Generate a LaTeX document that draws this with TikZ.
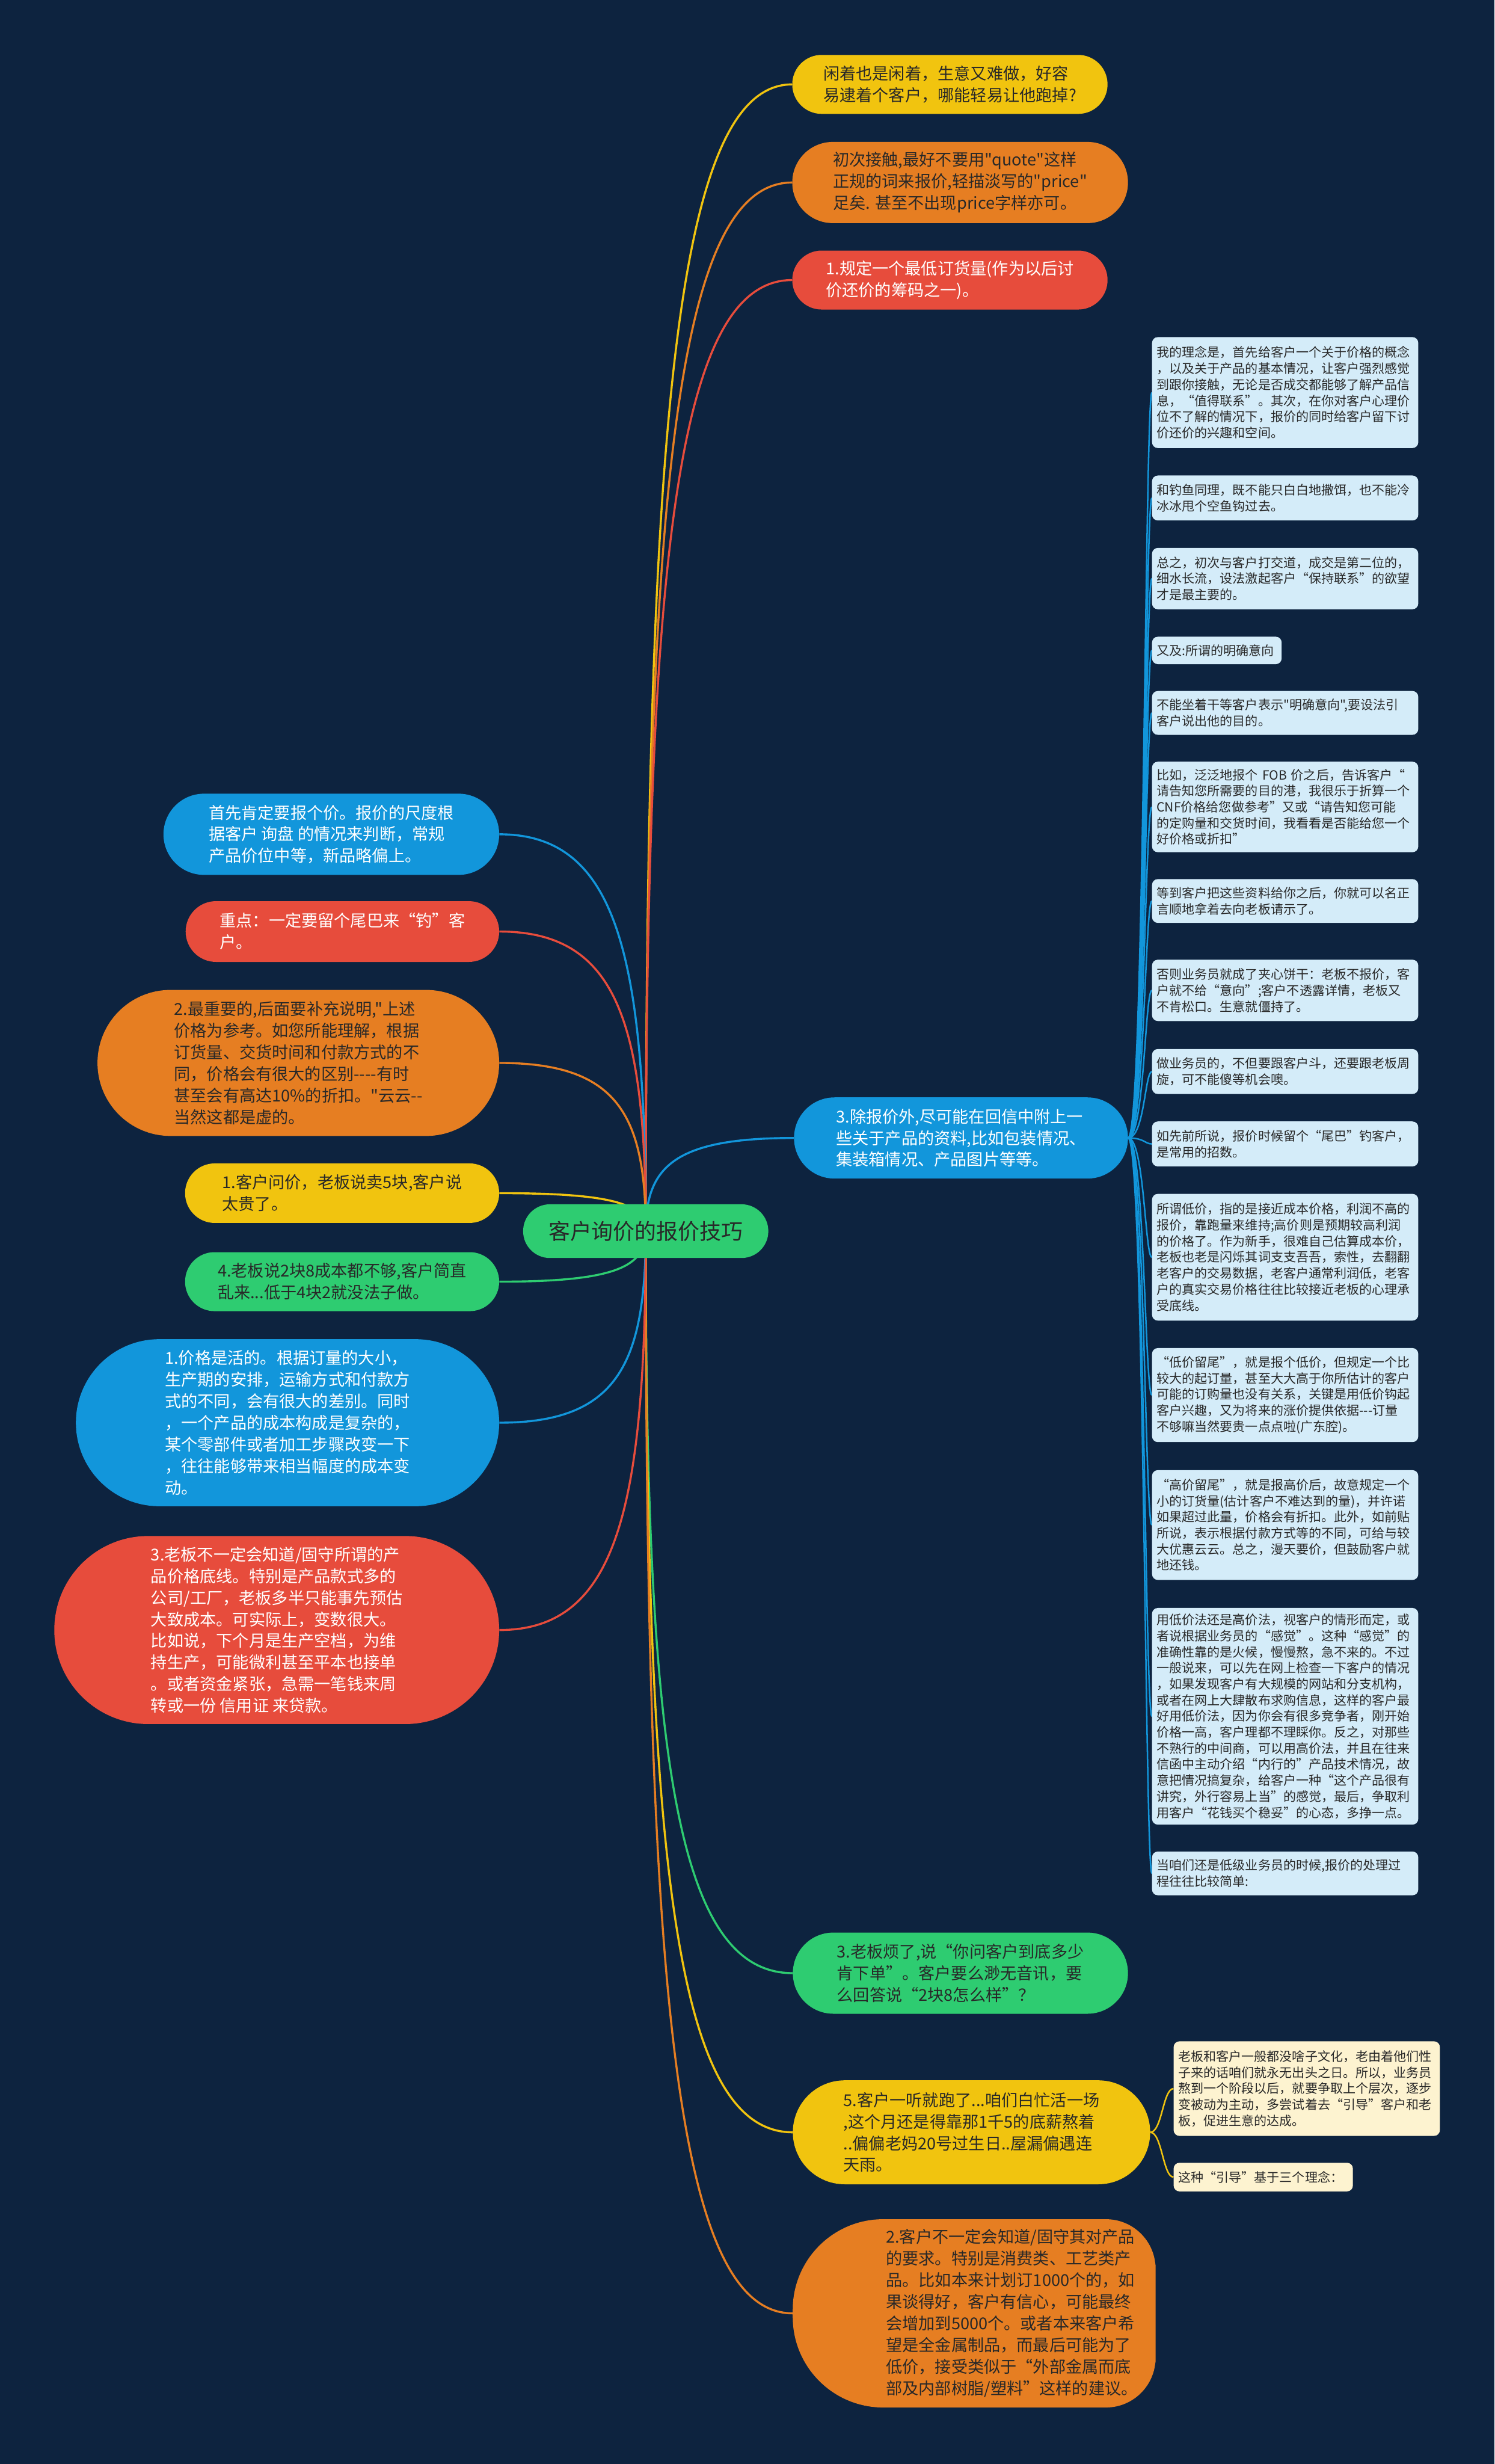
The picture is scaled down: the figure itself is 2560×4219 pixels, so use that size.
\documentclass[tikz,border=0pt]{standalone}
\usepackage{fontspec}
\newfontfamily\cjk{Noto Sans CJK SC}
\usetikzlibrary{calc}
\definecolor{bgc}{RGB}{13,35,63}
\definecolor{cyel}{RGB}{241,196,15}
\definecolor{corg}{RGB}{230,126,34}
\definecolor{cred}{RGB}{231,76,60}
\definecolor{cblu}{RGB}{18,150,219}
\definecolor{cgrn}{RGB}{46,204,113}
\definecolor{cleaf}{RGB}{212,236,249}
\definecolor{ccream}{RGB}{253,243,208}
\definecolor{cdark}{RGB}{40,40,40}
\pgfdeclarelayer{bg}
\pgfsetlayers{bg,main}
\tikzset{
  pill/.style={rectangle, inner sep=0pt, align=left, font=\cjk\fontsize{28}{37}\selectfont},
  ptext/.style={inner sep=0pt, align=left, font=\cjk\fontsize{28}{37}\selectfont},
  leafbox/.style={rectangle, rounded corners=10pt, fill=cleaf, inner xsep=8pt, inner ysep=0pt, text width=440pt, align=left, anchor=north west, text=cdark, font=\cjk\fontsize{21.7}{27.5}\selectfont},
  branchline/.style={line width=3.5pt},
  leafline/.style={line width=2.6pt},
}
\newcommand\mmbranch[2]{\draw[branchline,#1] (c.center) .. controls ($(c.center)!0.7!(c.center |- #2)$) and ($(c.center |- #2)!0.2!(#2)$) .. (#2);}
\begin{document}
\begin{tikzpicture}[x=1pt,y=-1pt]
\useasboundingbox (0,0) rectangle (2560,4219);
\begin{pgfonlayer}{bg}
\fill[bgc] (0,0) rectangle (2560,4219);
\end{pgfonlayer}

% central topic
\node[pill, fill=cgrn, text=cdark, minimum width=420pt, minimum height=92pt, rounded corners=45.9pt, font=\cjk\fontsize{37}{44}\selectfont] (c) at (1106,2108) {客户询价的报价技巧};

% right top
\node[pill, fill=cyel, text=cdark, minimum width=540pt, minimum height=101pt, rounded corners=50.4pt] (t1) at (1627,144.5) {闲着也是闲着，生意又难做，好容\\易逮着个客户，哪能轻易让他跑掉?};
\node[pill, fill=corg, text=cdark, minimum width=575pt, minimum height=139pt, rounded corners=69.4pt] (t2) at (1644.5,312.5) {初次接触,最好不要用"quote"这样\\正规的词来报价,轻描淡写的"price"\\足矣. 甚至不出现price字样亦可。};
\node[pill, fill=cred, text=white, minimum width=540pt, minimum height=101pt, rounded corners=50.4pt] (t3) at (1627,479.5) {1.规定一个最低订货量(作为以后讨\\价还价的筹码之一)。};
\node[pill, fill=cblu, text=white, minimum width=572pt, minimum height=139pt, rounded corners=69.4pt] (n3) at (1646,1948.5) {3.除报价外,尽可能在回信中附上一\\些关于产品的资料,比如包装情况、\\集装箱情况、产品图片等等。};

% right bottom
\node[pill, fill=cgrn, text=cdark, minimum width=574pt, minimum height=139pt, rounded corners=69.4pt] (b1) at (1645,3378.5) {3.老板烦了,说“你问客户到底多少\\肯下单”。客户要么渺无音讯，要\\么回答说“2块8怎么样”？};
\node[pill, fill=cyel, text=cdark, minimum width=612pt, minimum height=178pt, rounded corners=88.9pt] (b2) at (1664,3651) {5.客户一听就跑了...咱们白忙活一场\\,这个月还是得靠那1千5的底薪熬着\\..偏偏老妈20号过生日..屋漏偏遇连\\天雨。};
\node[pill, minimum width=621pt, minimum height=322pt] (b3) at (1668.5,3961) {};
\fill[corg] (b3.east) [rounded corners=85pt] -- (b3.south east) -- (b3.south) [rounded corners=155pt] -- (b3.south west) -- (b3.north west) -- (b3.north) [rounded corners=85pt] -- (b3.north east) -- cycle;
\node[ptext, text=cdark] (b3t) at (1733,3961) {2.客户不一定会知道/固守其对产品\\的要求。特别是消费类、工艺类产\\品。比如本来计划订1000个的，如\\果谈得好，客户有信心，可能最终\\会增加到5000个。或者本来客户希\\望是全金属制品，而最后可能为了\\低价，接受类似于“外部金属而底\\部及内部树脂/塑料”这样的建议。};

% left
\node[pill, fill=cblu, text=white, minimum width=575pt, minimum height=139pt, rounded corners=69.4pt] (l1) at (567.5,1428.5) {首先肯定要报个价。报价的尺度根\\据客户 询盘 的情况来判断，常规\\产品价位中等，新品略偏上。};
\node[pill, fill=cred, text=white, minimum width=537pt, minimum height=104pt, rounded corners=51.9pt] (l2) at (586.5,1595) {重点：一定要留个尾巴来“钓”客\\户。};
\node[pill, fill=corg, text=cdark, minimum width=688pt, minimum height=250pt, rounded corners=124.9pt] (l3) at (511,1820) {2.最重要的,后面要补充说明,"上述\\价格为参考。如您所能理解，根据\\订货量、交货时间和付款方式的不\\同，价格会有很大的区别----有时\\甚至会有高达10\%的折扣。"云云--\\当然这都是虚的。};
\node[pill, fill=cyel, text=cdark, minimum width=538pt, minimum height=102pt, rounded corners=50.9pt] (l4) at (586,2043) {1.客户问价，老板说卖5块,客户说\\太贵了。};
\node[pill, fill=cgrn, text=cdark, minimum width=538pt, minimum height=101pt, rounded corners=50.4pt] (l5) at (586,2194.5) {4.老板说2块8成本都不够,客户简直\\乱来...低于4块2就没法子做。};
\node[pill, fill=cblu, text=white, minimum width=725pt, minimum height=286pt, rounded corners=142.9pt] (l6) at (492.5,2436) {1.价格是活的。根据订量的大小，\\生产期的安排，运输方式和付款方\\式的不同，会有很大的差别。同时\\，一个产品的成本构成是复杂的，\\某个零部件或者加工步骤改变一下\\，往往能够带来相当幅度的成本变\\动。};
\node[pill, fill=cred, text=white, minimum width=762pt, minimum height=322pt, rounded corners=160.9pt] (l7) at (474,2791) {3.老板不一定会知道/固守所谓的产\\品价格底线。特别是产品款式多的\\公司/工厂，老板多半只能事先预估\\大致成本。可实际上，变数很大。\\比如说，下个月是生产空档，为维\\持生产，可能微利甚至平本也接单\\。或者资金紧张，急需一笔钱来周\\转或一份 信用证 来贷款。};

% leaves of n3
\node[leafbox, minimum height=190pt] (la) at (1973,577) {我的理念是，首先给客户一个关于价格的概念\\，以及关于产品的基本情况，让客户强烈感觉\\到跟你接触，无论是否成交都能够了解产品信\\息，“值得联系”。其次，在你对客户心理价\\位不了解的情况下，报价的同时给客户留下讨\\价还价的兴趣和空间。};
\node[leafbox, minimum height=77pt] (lb) at (1973,814) {和钓鱼同理，既不能只白白地撒饵，也不能冷\\冰冰甩个空鱼钩过去。};
\node[leafbox, minimum height=105pt] (lc) at (1973,938) {总之，初次与客户打交道，成交是第二位的，\\细水长流，设法激起客户“保持联系”的欲望\\才是最主要的。};
\node[leafbox, minimum height=47pt, text width=206pt] (ld) at (1973,1090) {又及:所谓的明确意向};
\node[leafbox, minimum height=75pt] (le) at (1973,1183) {不能坐着干等客户表示"明确意向",要设法引\\客户说出他的目的。};
\node[leafbox, minimum height=155pt] (lf) at (1973,1304) {比如，泛泛地报个 FOB 价之后，告诉客户“\\请告知您所需要的目的港，我很乐于折算一个\\CNF价格给您做参考”又或“请告知您可能\\的定购量和交货时间，我看看是否能给您一个\\好价格或折扣”};
\node[leafbox, minimum height=75pt] (lg) at (1973,1505) {等到客户把这些资料给你之后，你就可以名正\\言顺地拿着去向老板请示了。};
\node[leafbox, minimum height=105pt] (lh) at (1973,1643) {否则业务员就成了夹心饼干：老板不报价，客\\户就不给“意向”;客户不透露详情，老板又\\不肯松口。生意就僵持了。};
\node[leafbox, minimum height=77pt] (li) at (1973,1796) {做业务员的，不但要跟客户斗，还要跟老板周\\旋，可不能傻等机会噢。};
\node[leafbox, minimum height=77pt] (lj) at (1973,1920) {如先前所说，报价时候留个“尾巴”钓客户，\\是常用的招数。};
\node[leafbox, minimum height=217pt] (lk) at (1973,2044) {所谓低价，指的是接近成本价格，利润不高的\\报价，靠跑量来维持;高价则是预期较高利润\\的价格了。作为新手，很难自己估算成本价，\\老板也老是闪烁其词支支吾吾，索性，去翻翻\\老客户的交易数据，老客户通常利润低，老客\\户的真实交易价格往往比较接近老板的心理承\\受底线。};
\node[leafbox, minimum height=161pt] (ll) at (1973,2308) {“低价留尾”，就是报个低价，但规定一个比\\较大的起订量，甚至大大高于你所估计的客户\\可能的订购量也没有关系，关键是用低价钩起\\客户兴趣，又为将来的涨价提供依据---订量\\不够嘛当然要贵一点点啦(广东腔)。};
\node[leafbox, minimum height=188pt] (lm) at (1973,2517) {“高价留尾”，就是报高价后，故意规定一个\\小的订货量(估计客户不难达到的量)，并许诺\\如果超过此量，价格会有折扣。此外，如前贴\\所说，表示根据付款方式等的不同，可给与较\\大优惠云云。总之，漫天要价，但鼓励客户就\\地还钱。};
\node[leafbox, minimum height=371pt] (ln) at (1973,2753) {用低价法还是高价法，视客户的情形而定，或\\者说根据业务员的“感觉”。这种“感觉”的\\准确性靠的是火候，慢慢熬，急不来的。不过\\一般说来，可以先在网上检查一下客户的情况\\，如果发现客户有大规模的网站和分支机构，\\或者在网上大肆散布求购信息，这样的客户最\\好用低价法，因为你会有很多竞争者，刚开始\\价格一高，客户理都不理睬你。反之，对那些\\不熟行的中间商，可以用高价法，并且在往来\\信函中主动介绍“内行的”产品技术情况，故\\意把情况搞复杂，给客户一种“这个产品很有\\讲究，外行容易上当”的感觉，最后，争取利\\用客户“花钱买个稳妥”的心态，多挣一点。};
\node[leafbox, minimum height=75pt] (lo) at (1973,3170) {当咱们还是低级业务员的时候,报价的处理过\\程往往比较简单:};

% leaves of b2
\node[leafbox, fill=ccream, minimum height=162pt] (p1) at (2010,3495) {老板和客户一般都没啥子文化，老由着他们性\\子来的话咱们就永无出头之日。所以，业务员\\熬到一个阶段以后，就要争取上个层次，逐步\\变被动为主动，多尝试着去“引导”客户和老\\板，促进生意的达成。};
\node[leafbox, fill=ccream, minimum height=49pt, text width=291pt] (p2) at (2010,3703) {这种“引导”基于三个理念：};

% connectors
\begin{pgfonlayer}{bg}
\mmbranch{cyel}{t1.west}
\mmbranch{corg}{t2.west}
\mmbranch{cred}{t3.west}
\mmbranch{cblu}{n3.west}
\mmbranch{cgrn}{b1.west}
\mmbranch{cyel}{b2.west}
\mmbranch{corg}{b3.west}
\mmbranch{cblu}{l1.east}
\mmbranch{cred}{l2.east}
\mmbranch{corg}{l3.east}
\mmbranch{cyel}{l4.east}
\mmbranch{cgrn}{l5.east}
\mmbranch{cblu}{l6.east}
\mmbranch{cred}{l7.east}
\foreach \lf in {la,lb,lc,ld,le,lf,lg,lh,li,lj,lk,ll,lm,ln,lo}{
  \draw[leafline, cblu] (n3.east) .. controls +(28,0) and +(-12,0) .. (\lf.west);
}
\foreach \lf in {p1,p2}{
  \draw[leafline, cyel] (b2.east) .. controls +(20,0) and +(-18,0) .. (\lf.west);
}
\end{pgfonlayer}
\end{tikzpicture}
\end{document}
